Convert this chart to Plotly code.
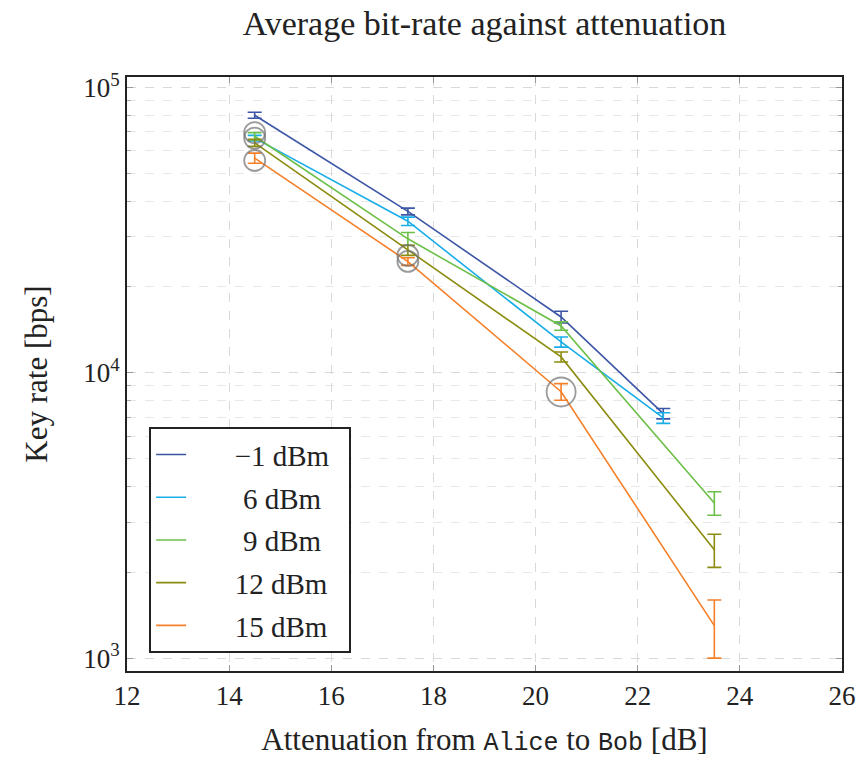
import plotly.graph_objects as go

# ---- data ----
series_names = ["\u22121 dBm", "6 dBm", "9 dBm", "12 dBm", "15 dBm"]
series_colors = ["#3C55A5", "#19ADE8", "#6CBF48", "#8C8C10", "#F5802A"]

x_m1 = [14.5, 17.5, 20.5, 22.5]
y_m1 = [80000, 36800, 15700, 7200]
e_m1 = [1900, 1000, 740, 300]

x_6 = [14.5, 17.5, 20.5, 22.5]
y_6 = [66500, 34000, 12830, 6950]
e_6 = [1500, 1150, 520, 300]

x_9 = [14.5, 17.5, 20.5, 23.5]
y_9 = [67500, 29500, 14600, 3500]
e_9 = [2000, 1550, 500, 330]

x_12 = [14.5, 17.5, 20.5, 23.5]
y_12 = [64000, 26900, 11370, 2400]
e_12 = [1800, 1100, 460, 320]

x_15 = [14.5, 17.5, 20.5, 23.5]
y_15 = [56600, 24560, 8590, 1300]
e_15 = [2300, 760, 575, 300]

circle_x = [14.5, 14.5, 14.5, 17.5, 17.5, 20.5]
circle_y = [69500, 66500, 55500, 25800, 24600, 8570]
circle_size = [21, 21, 21, 21, 21, 29]

x_ticks = [12, 14, 16, 18, 20, 22, 24, 26]
y_ticks = [1000, 10000, 100000]
y_ticktext = ["10<sup>3</sup>", "10<sup>4</sup>", "10<sup>5</sup>"]
y_minor = [m * d for d in (1000, 10000) for m in range(2, 10)]

serif = "Liberation Serif"
mono = "Liberation Mono"
txt = "#222222"

# legend labels: leading space pushes text right, like the reference legend
lead = "\u2003\u2002"
centre_pad = ["", "\u2009\u200a", "\u2009\u200a", "", ""]
trail = "\u2002"

fig = go.Figure()
all_x = [x_m1, x_6, x_9, x_12, x_15]
all_y = [y_m1, y_6, y_9, y_12, y_15]
all_e = [e_m1, e_6, e_9, e_12, e_15]
for i, (name, col) in enumerate(zip(series_names, series_colors)):
    fig.add_trace(go.Scatter(
        x=all_x[i], y=all_y[i], name=lead + centre_pad[i] + name + centre_pad[i] + trail,
        mode="lines",
        line=dict(color=col, width=1.6),
        error_y=dict(type="data", array=all_e[i], visible=True,
                     color=col, thickness=1.6, width=7),
        legendgroup=f"g{i}",
    ))

fig.add_trace(go.Scatter(
    x=circle_x, y=circle_y, mode="markers", showlegend=False,
    marker=dict(symbol="circle-open", size=circle_size,
                color="#707070", line=dict(width=1.8, color="#707070")),
    hoverinfo="skip",
))

grid_col = "#d9d9d9"
mono_span = "<span style=\"font-family:'Liberation Mono';font-size:25px\">%s</span>"
fig.update_layout(
    width=864, height=758,
    margin=dict(l=127, r=22, t=77, b=87, autoexpand=False),
    paper_bgcolor="white", plot_bgcolor="white",
    font=dict(family=serif, size=26, color=txt),
    title=dict(text="Average bit-rate against attenuation",
               x=(127 + 842) / 2 / 864, xanchor="center",
               y=1 - 23 / 758, yanchor="middle",
               font=dict(family=serif, size=34, color=txt)),
    showlegend=True,
    legend=dict(x=0.031, y=0.03, xanchor="left", yanchor="bottom",
                bgcolor="white", bordercolor=txt, borderwidth=2,
                font=dict(family=serif, size=29, color=txt),
                traceorder="grouped", tracegroupgap=2,
                itemwidth=30),
)

fig.update_xaxes(
    range=[12, 26], tickvals=x_ticks, automargin=False,
    ticks="inside", ticklen=6, tickcolor="#999999", tickwidth=1,
    showline=True, linecolor=txt, linewidth=2, mirror="ticks",
    showgrid=True, gridcolor=grid_col, griddash="dash", gridwidth=1,
    zeroline=False,
    tickfont=dict(family=serif, size=27, color=txt),
    title=dict(text="Attenuation from " + (mono_span % "Alice") + " to " + (mono_span % "Bob") + " [dB]",
               font=dict(family=serif, size=31, color=txt), standoff=18),
)
fig.update_yaxes(
    type="log", range=[2.955, 5.037], automargin=False,
    tickvals=y_ticks, ticktext=y_ticktext,
    ticks="inside", ticklen=6, tickcolor="#999999", tickwidth=1,
    showline=True, linecolor=txt, linewidth=2, mirror="ticks",
    showgrid=True, gridcolor=grid_col, griddash="dash", gridwidth=1,
    zeroline=False,
    minor=dict(tickmode="array", tickvals=y_minor, ticks="inside", ticklen=4,
               tickcolor="#aaaaaa", showgrid=True, gridcolor="#e8e8e8",
               griddash="dash", gridwidth=1),
    tickfont=dict(family=serif, size=27, color=txt),
    title=dict(text="Key rate [bps]", font=dict(family=serif, size=31, color=txt),
               standoff=26),
)

fig.write_html("out.html")
